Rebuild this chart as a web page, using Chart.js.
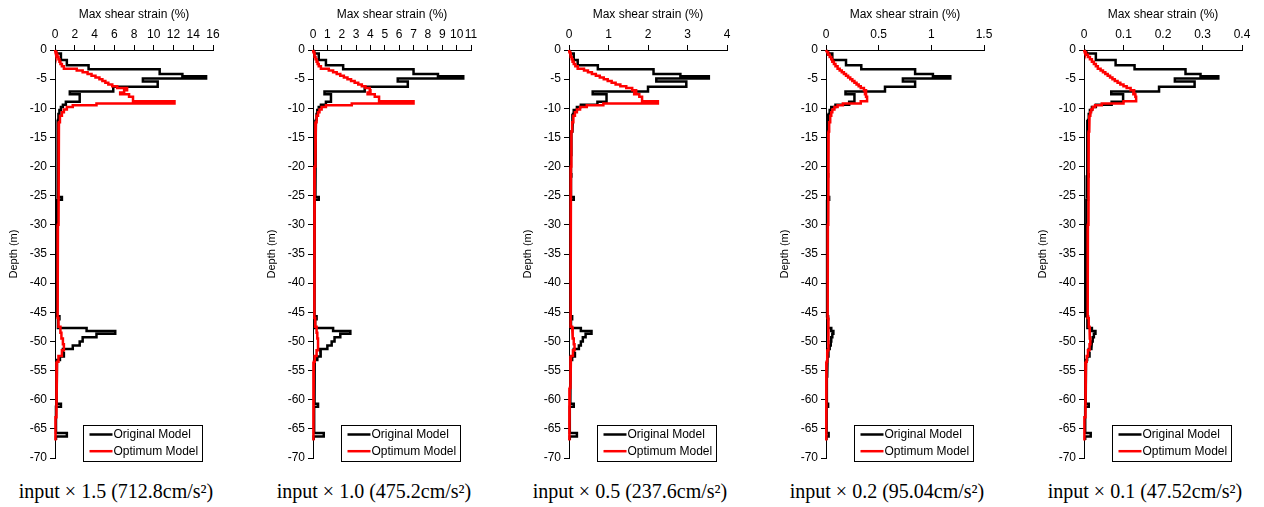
<!DOCTYPE html>
<html>
<head>
<meta charset="utf-8">
<script src="https://cdn.jsdelivr.net/npm/chart.js@4.4.1/dist/chart.umd.min.js"></script>
<style>
html,body{margin:0;padding:0;background:#fff;width:1264px;height:507px;overflow:hidden;}
canvas{position:absolute;top:0;}
.cap{position:absolute;top:480px;width:260px;text-align:center;font-family:'Liberation Serif','Times New Roman',serif;font-size:20px;line-height:23px;color:#000;white-space:nowrap;}
</style>
</head>
<body>
<script>
// ---------------- DATA ----------------
// layer bottom depths (m) for each profile
const blackBottoms = [0.6, 1.7, 2.6, 3.3, 4.1, 4.5, 4.9, 5.4, 6.3, 7.1, 7.6, 8.9, 9.4, 9.8, 10.3, 11.0, 12.0, 14.0, 18.0, 21.3, 21.7, 25.2, 25.7, 30.0, 38.0, 45.7, 46.2, 47.7, 48.2, 48.7, 49.3, 50.0, 50.7, 51.3, 52.0, 52.6, 53.2, 56.0, 60.7, 61.2, 65.7, 66.3, 66.9];
const redBottoms = [0.4, 0.8, 1.2, 1.6, 2.0, 2.4, 2.8, 3.2, 3.5, 3.8, 4.1, 4.4, 4.7, 5.0, 5.3, 5.6, 5.9, 6.2, 6.5, 6.9, 7.3, 7.6, 8.0, 8.8, 9.2, 9.5, 9.8, 10.2, 10.7, 11.3, 12.4, 14.0, 20, 30, 40, 46, 47.5, 48.5, 49.5, 50.5, 51.5, 52.5, 53.5, 58, 63, 67];

// Original Model max shear strain (%) per layer
const original1 = [0.2, 0.6, 1.2, 3.4, 10.6, 12.9, 15.3, 8.9, 10.4, 5.9, 1.5, 2.5, 1.1, 0.8, 0.6, 0.45, 0.35, 0.3, 0.25, 0.25, 0.3, 0.25, 0.7, 0.2, 0.2, 0.2, 0.45, 0.3, 3.2, 6.1, 4.2, 2.8, 2.5, 1.8, 0.8, 0.9, 0.5, 0.2, 0.15, 0.6, 0.1, 1.2, 0.1];
const original2 = [0.15, 0.4, 0.9, 2.1, 7.0, 8.7, 10.46, 5.9, 6.6, 3.6, 0.8, 1.25, 0.9, 0.55, 0.4, 0.3, 0.25, 0.2, 0.15, 0.15, 0.2, 0.15, 0.4, 0.12, 0.1, 0.1, 0.25, 0.15, 1.4, 2.6, 1.9, 1.5, 1.3, 1.0, 0.5, 0.55, 0.3, 0.12, 0.1, 0.35, 0.08, 0.75, 0.05];
const original3 = [0.05, 0.12, 0.22, 0.73, 2.14, 2.82, 3.54, 2.21, 2.97, 2.0, 0.6, 0.95, 0.72, 0.3, 0.2, 0.12, 0.1, 0.08, 0.06, 0.05, 0.06, 0.05, 0.12, 0.04, 0.04, 0.04, 0.08, 0.05, 0.3, 0.57, 0.42, 0.35, 0.3, 0.25, 0.12, 0.15, 0.08, 0.04, 0.03, 0.12, 0.02, 0.2, 0.02];
const original4 = [0.03, 0.06, 0.19, 0.335, 0.846, 1.015, 1.18, 0.73, 0.846, 0.56, 0.185, 0.27, 0.22, 0.09, 0.05, 0.035, 0.025, 0.02, 0.015, 0.015, 0.02, 0.015, 0.03, 0.012, 0.01, 0.01, 0.02, 0.015, 0.05, 0.07, 0.06, 0.05, 0.045, 0.035, 0.02, 0.025, 0.015, 0.01, 0.008, 0.02, 0.006, 0.025, 0.005];
const original5 = [0.01, 0.03, 0.08, 0.128, 0.257, 0.295, 0.34, 0.23, 0.28, 0.19, 0.069, 0.099, 0.07, 0.03, 0.02, 0.015, 0.012, 0.01, 0.008, 0.008, 0.012, 0.007, 0.01, 0.006, 0.005, 0.005, 0.01, 0.008, 0.02, 0.029, 0.025, 0.022, 0.02, 0.018, 0.012, 0.014, 0.008, 0.005, 0.004, 0.012, 0.003, 0.017, 0.003];

// Optimum Model max shear strain (%) per layer
const optimum1 = [0.05, 0.15, 0.25, 0.35, 0.45, 0.55, 0.7, 0.9, 2.2, 2.8, 3.3, 3.7, 4.1, 4.5, 4.8, 5.1, 5.4, 5.8, 6.3, 7.3, 7.0, 6.6, 7.5, 7.9, 12.1, 4.2, 1.8, 1.2, 0.9, 0.7, 0.5, 0.4, 0.35, 0.35, 0.3, 0.25, 0.35, 0.55, 0.65, 0.8, 0.9, 0.7, 0.35, 0.2, 0.12, 0.05];
const optimum2 = [0.03, 0.08, 0.13, 0.18, 0.25, 0.32, 0.4, 0.55, 1.1, 1.4, 1.65, 1.9, 2.15, 2.4, 2.65, 2.9, 3.15, 3.4, 3.65, 3.95, 4.0, 3.8, 4.3, 4.6, 7.0, 2.7, 0.9, 0.6, 0.45, 0.35, 0.25, 0.2, 0.15, 0.12, 0.1, 0.08, 0.15, 0.25, 0.3, 0.35, 0.35, 0.25, 0.12, 0.06, 0.03, 0.01];
const optimum3 = [0.01, 0.03, 0.05, 0.07, 0.09, 0.12, 0.16, 0.22, 0.38, 0.48, 0.58, 0.68, 0.78, 0.88, 0.98, 1.08, 1.18, 1.3, 1.45, 1.6, 1.7, 1.65, 1.78, 1.85, 2.25, 0.87, 0.45, 0.28, 0.2, 0.15, 0.11, 0.08, 0.06, 0.05, 0.04, 0.03, 0.05, 0.08, 0.1, 0.12, 0.14, 0.1, 0.05, 0.03, 0.02, 0.005];
const optimum4 = [0.01, 0.02, 0.035, 0.05, 0.06, 0.075, 0.09, 0.11, 0.13, 0.15, 0.17, 0.19, 0.21, 0.23, 0.25, 0.27, 0.29, 0.31, 0.33, 0.36, 0.38, 0.37, 0.38, 0.39, 0.33, 0.16, 0.11, 0.08, 0.06, 0.05, 0.04, 0.03, 0.025, 0.02, 0.018, 0.015, 0.02, 0.022, 0.025, 0.025, 0.022, 0.015, 0.01, 0.006, 0.003, 0.001];
const optimum5 = [0.002, 0.005, 0.01, 0.015, 0.02, 0.025, 0.03, 0.035, 0.042, 0.048, 0.054, 0.06, 0.066, 0.072, 0.078, 0.085, 0.092, 0.1, 0.108, 0.118, 0.127, 0.125, 0.13, 0.132, 0.1, 0.045, 0.028, 0.022, 0.018, 0.016, 0.014, 0.013, 0.012, 0.011, 0.01, 0.009, 0.012, 0.014, 0.015, 0.016, 0.014, 0.01, 0.007, 0.005, 0.003, 0.001];

// tick labels
const xTicks1 = [0, 2, 4, 6, 8, 10, 12, 14, 16];
const xTicks2 = [0, 1, 2, 3, 4, 5, 6, 7, 8, 9, 10, 11];
const xTicks3 = [0, 1, 2, 3, 4];
const xTicks4 = [0, 0.5, 1, 1.5];
const xTicks5 = [0, 0.1, 0.2, 0.3, 0.4];
const yTicks = [0, -5, -10, -15, -20, -25, -30, -35, -40, -45, -50, -55, -60, -65, -70];

const seriesNames = ['Original Model', 'Optimum Model'];
const xTitle = 'Max shear strain (%)';
const yTitle = 'Depth (m)';
const captions = ['input × 1.5 (712.8cm/s²)', 'input × 1.0 (475.2cm/s²)', 'input × 0.5 (237.6cm/s²)', 'input × 0.2 (95.04cm/s²)', 'input × 0.1 (47.52cm/s²)'];

// ---------------- LAYOUT ----------------
const PLOT_LEFTS = [55, 313, 569, 826, 1084];
const AXIS_W = 55, PLOT_W = 158, PAD_R = 22, TOP_H = 50, PLOT_H = 408, PAD_B = 14;
const FONT = "'Liberation Sans', Arial, sans-serif";

Chart.defaults.font.family = FONT;
Chart.defaults.color = '#000';

function profile(bottoms, vals) {
  const pts = [{x: 0, y: 0}];
  let top = 0;
  for (let i = 0; i < vals.length; i++) {
    if (i > 0) pts.push({x: vals[i], y: -top});
    pts.push({x: vals[i], y: -bottoms[i]});
    top = bottoms[i];
  }
  return pts;
}

const boxLegend = {
  id: 'boxLegend',
  afterDraw(chart) {
    const {ctx, chartArea} = chart;
    const x = Math.round(chartArea.left + 28) + 0.5;
    const y = Math.round(chartArea.bottom - 33) + 0.5;
    const w = 119, h = 36;
    ctx.save();
    ctx.fillStyle = '#fff';
    ctx.fillRect(x, y, w, h);
    ctx.strokeStyle = '#000';
    ctx.lineWidth = 1;
    ctx.strokeRect(x, y, w, h);
    ctx.font = '12px ' + FONT;
    ctx.textBaseline = 'middle';
    ctx.textAlign = 'left';
    chart.data.datasets.forEach((ds, i) => {
      const ly = y + 9 + i * 16.7;
      ctx.strokeStyle = ds.borderColor;
      ctx.lineWidth = 2.5;
      ctx.beginPath();
      ctx.moveTo(x + 6, ly);
      ctx.lineTo(x + 29, ly);
      ctx.stroke();
      ctx.fillStyle = '#000';
      ctx.fillText(ds.label, x + 30, ly);
    });
    ctx.restore();
  }
};

const panels = [
  {orig: original1, opt: optimum1, xTicks: xTicks1},
  {orig: original2, opt: optimum2, xTicks: xTicks2},
  {orig: original3, opt: optimum3, xTicks: xTicks3},
  {orig: original4, opt: optimum4, xTicks: xTicks4},
  {orig: original5, opt: optimum5, xTicks: xTicks5}
];

const axisGrid = {display: true, drawOnChartArea: false, drawTicks: true, tickLength: 5, color: '#000', lineWidth: 1};
const axisBorder = {display: true, color: '#000', width: 1};

panels.forEach((p, k) => {
  const cv = document.createElement('canvas');
  cv.width = AXIS_W + PLOT_W + PAD_R;
  cv.height = TOP_H + PLOT_H + PAD_B;
  cv.style.left = (PLOT_LEFTS[k] - AXIS_W) + 'px';
  cv.style.width = cv.width + 'px';
  cv.style.height = cv.height + 'px';
  document.body.appendChild(cv);

  const xt = p.xTicks;
  new Chart(cv, {
    type: 'scatter',
    data: {
      datasets: [
        {label: seriesNames[0], data: profile(blackBottoms, p.orig), borderColor: '#000000', backgroundColor: '#000000', order: 1},
        {label: seriesNames[1], data: profile(redBottoms, p.opt), borderColor: '#ff0000', backgroundColor: '#ff0000', order: 0}
      ]
    },
    options: {
      responsive: false,
      animation: false,
      devicePixelRatio: 1,
      showLine: true,
      elements: {
        point: {radius: 0, hoverRadius: 0},
        line: {borderWidth: 2.5, tension: 0, fill: false, borderJoinStyle: 'miter'}
      },
      datasets: {scatter: {showLine: true, clip: 4}},
      layout: {padding: {left: 0, top: 0, right: PAD_R, bottom: PAD_B}},
      plugins: {legend: {display: false}, tooltip: {enabled: false}},
      scales: {
        x: {
          type: 'linear', position: 'top',
          min: xt[0], max: xt[xt.length - 1],
          afterFit: s => { s.height = TOP_H; },
          afterBuildTicks: s => { s.ticks = xt.map(v => ({value: v})); },
          ticks: {autoSkip: false, maxRotation: 0, minRotation: 0, padding: 3, font: {size: 12}, color: '#000',
                  callback: v => String(Math.round(v * 1000) / 1000)},
          grid: axisGrid, border: axisBorder,
          title: {display: true, text: xTitle, font: {size: 12}, color: '#000', padding: {top: 7, bottom: 0}}
        },
        y: {
          type: 'linear', position: 'left',
          min: yTicks[yTicks.length - 1], max: yTicks[0],
          afterFit: s => { s.width = AXIS_W; },
          afterBuildTicks: s => { s.ticks = yTicks.map(v => ({value: v})); },
          ticks: {autoSkip: false, padding: 3, font: {size: 12}, color: '#000'},
          grid: axisGrid, border: axisBorder,
          title: {display: true, text: yTitle, font: {size: 11}, color: '#000', padding: {top: 7, bottom: 0}}
        }
      }
    },
    plugins: [boxLegend]
  });

  const cap = document.createElement('div');
  cap.className = 'cap';
  cap.style.left = (PLOT_LEFTS[k] + 61 - 130) + 'px';
  cap.textContent = captions[k];
  document.body.appendChild(cap);
});
</script>
</body>
</html>
